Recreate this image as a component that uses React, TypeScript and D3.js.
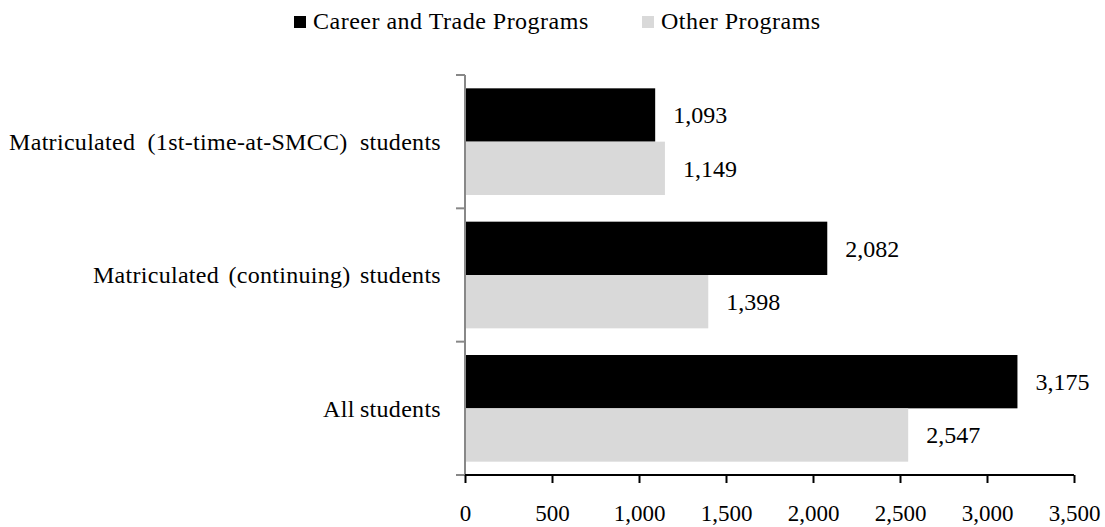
import { useEffect, useRef } from "react";
import * as d3 from "d3";

const categories = [
    "Matriculated (1st-time-at-SMCC) students",
    "Matriculated (continuing) students",
    "All students",
];
const seriesNames = ["Career and Trade Programs", "Other Programs"];
const seriesColors = ["#000000", "#d9d9d9"];
const careerValues = [1093, 2082, 3175];
const otherValues = [1149, 1398, 2547];
const xTicks = [0, 500, 1000, 1500, 2000, 2500, 3000, 3500];

const FONT = "'Liberation Serif', 'Times New Roman', serif";

const App = () => {
    const svgRef = useRef<SVGSVGElement | null>(null);

    useEffect(() => {
        const svg = d3.select(svgRef.current);
        svg.selectAll("*").remove();

        const margin = { top: 75, left: 465, right: 31, bottom: 52 };
        const width = 1105 - margin.left - margin.right;
        const height = 527 - margin.top - margin.bottom;

        const g = svg.append("g").attr("transform", `translate(${margin.left},${margin.top})`);

        const x = d3.scaleLinear().domain([0, 3500]).range([0, width]);
        const y = d3
            .scaleBand()
            .domain(categories)
            .range([0, height])
            .paddingInner(0.2)
            .paddingOuter(0.1);
        const inner = d3
            .scaleBand()
            .domain(seriesNames)
            .range([0, y.bandwidth()]);

        const rows = categories.map((c, i) => ({
            category: c,
            values: [careerValues[i], otherValues[i]],
        }));

        // bars
        const groups = g
            .selectAll(".grp")
            .data(rows)
            .enter()
            .append("g")
            .attr("transform", (d) => `translate(0,${y(d.category)})`);

        groups
            .selectAll("rect")
            .data((d) => d.values.map((v, k) => ({ v, k })))
            .enter()
            .append("rect")
            .attr("x", 0)
            .attr("y", (d) => inner(seriesNames[d.k]) as number)
            .attr("width", (d) => x(d.v))
            .attr("height", inner.bandwidth())
            .attr("fill", (d) => seriesColors[d.k]);

        // value labels
        groups
            .selectAll(".val")
            .data((d) => d.values.map((v, k) => ({ v, k })))
            .enter()
            .append("text")
            .attr("x", (d) => x(d.v) + 18)
            .attr("y", (d) => (inner(seriesNames[d.k]) as number) + inner.bandwidth() / 2)
            .attr("dy", "0.35em")
            .style("font-family", FONT)
            .style("font-size", "24px")
            .attr("fill", "#000")
            .text((d) => d3.format(",")(d.v));

        // y axis (grey, ticks at band boundaries)
        const yEdges = [0, ...categories.map((c) => (y(c) as number) + y.bandwidth() + (y.step() - y.bandwidth()) / 2)];
        g.append("line")
            .attr("x1", 0)
            .attr("x2", 0)
            .attr("y1", 0)
            .attr("y2", height)
            .attr("stroke", "#888")
            .attr("stroke-width", 2);
        g.selectAll(".ytick")
            .data(yEdges)
            .enter()
            .append("line")
            .attr("x1", -9)
            .attr("x2", 0)
            .attr("y1", (d) => d)
            .attr("y2", (d) => d)
            .attr("stroke", "#888")
            .attr("stroke-width", 2);

        // category labels (word spacing differs per label, as in the original)
        const wordGap = ["6px", "3px", "-1px"];
        g.selectAll(".cat")
            .data(categories)
            .enter()
            .append("text")
            .attr("x", -24)
            .attr("y", (d) => (y(d) as number) + y.bandwidth() / 2)
            .attr("dy", "0.35em")
            .attr("text-anchor", "end")
            .style("font-family", FONT)
            .style("font-size", "24px")
            .style("word-spacing", (d, i) => wordGap[i])
            .style("letter-spacing", "0.3px")
            .attr("fill", "#000")
            .text((d) => d);

        // x axis
        const xAxis = g
            .append("g")
            .attr("transform", `translate(0,${height})`)
            .call(d3.axisBottom(x).tickValues(xTicks).tickSize(8).tickPadding(22).tickFormat(d3.format(",") as any));
        xAxis.select(".domain").attr("stroke", "#000").attr("stroke-width", 2).attr("d", `M0,0H${width}`);
        xAxis.selectAll(".tick line").attr("stroke", "#000").attr("stroke-width", 2);
        xAxis
            .selectAll(".tick text")
            .style("font-family", FONT)
            .style("font-size", "23px")
            .attr("fill", "#000");

        // legend
        const legend = svg.append("g");
        const legendItems = [
            { name: seriesNames[0], color: seriesColors[0], x: 294 },
            { name: seriesNames[1], color: seriesColors[1], x: 642 },
        ];
        legendItems.forEach((item) => {
            legend
                .append("rect")
                .attr("x", item.x)
                .attr("y", 16)
                .attr("width", 12)
                .attr("height", 12)
                .attr("fill", item.color);
            legend
                .append("text")
                .attr("x", item.x + 19)
                .attr("y", 29)
                .style("font-family", FONT)
                .style("font-size", "24px")
                .style("letter-spacing", "0.5px")
                .attr("fill", "#000")
                .text(item.name);
        });
    }, []);

    return (
        <svg
            ref={svgRef}
            width={1105}
            height={527}
            style={{ position: "absolute", left: 0, top: 0, background: "#fff" }}
        ></svg>
    );
};

export default App;
